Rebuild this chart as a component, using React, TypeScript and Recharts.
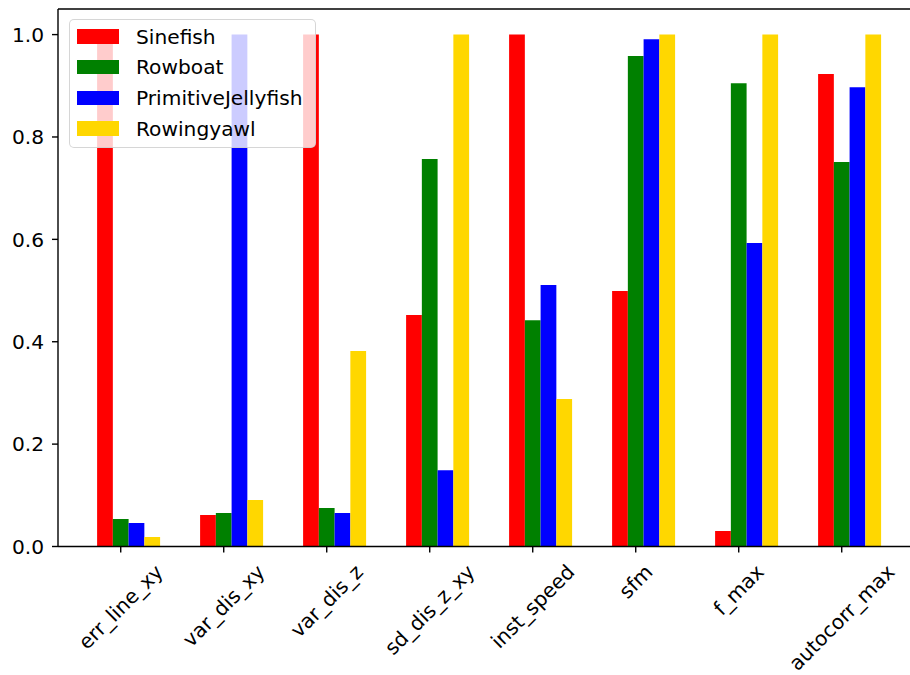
import React from "react";
import { BarChart, Bar, XAxis, YAxis, ReferenceLine } from "recharts";

// feature names along the x axis
const features = [
  "err_line_xy",
  "var_dis_xy",
  "var_dis_z",
  "sd_dis_z_xy",
  "inst_speed",
  "sfm",
  "f_max",
  "autocorr_max",
];

// normalised feature scores per swimmer
const sinefish = [1.0, 0.0615, 1.0, 0.452, 1.0, 0.499, 0.0303, 0.923];
const rowboat = [0.0537, 0.0654, 0.0752, 0.757, 0.442, 0.958, 0.905, 0.751];
const primitiveJellyfish = [0.0459, 1.0, 0.0654, 0.149, 0.511, 0.991, 0.593, 0.897];
const rowingyawl = [0.0186, 0.0908, 0.382, 1.0, 0.288, 1.0, 1.0, 1.0];

const seriesNames = ["Sinefish", "Rowboat", "PrimitiveJellyfish", "Rowingyawl"];
const seriesValues = [sinefish, rowboat, primitiveJellyfish, rowingyawl];
const yTicks = [0, 0.2, 0.4, 0.6, 0.8, 1.0];

const COLORS = ["#ff0000", "#008000", "#0000ff", "#ffd700"];
const FONT = '"DejaVu Sans", sans-serif';
const FS = 20.2;
const BAR = 15.75;
const LINE_W = 1.4;
const PLOT_TOP = 9;
const PLOT_BOTTOM = 546.5;
const CHART_W = 940;
const CHART_H = 675;
const PLOT_RIGHT = 920;
const X_AXIS_H = 100;

const rows = features.map((f, i) => {
  const row: Record<string, string | number> = { feature: f };
  seriesNames.forEach((name, s) => {
    row[name] = seriesValues[s][i];
  });
  return row;
});

let ctx: CanvasRenderingContext2D | null = null;
function textWidth(s: string) {
  if (!ctx) ctx = document.createElement("canvas").getContext("2d");
  if (!ctx) return s.length * FS * 0.6;
  ctx.font = `${FS}px "DejaVu Sans"`;
  return ctx.measureText(s).width;
}

// rotated label, centred on the tick like matplotlib's ha="center"
function FeatureTick(props: any) {
  const { x, payload } = props;
  const tx = x - BAR / 2;
  const w = textWidth(String(payload.value));
  const cy = 560 + (w + FS * 1.17) / (2 * Math.SQRT2);
  return (
    <g>
      <line x1={tx} x2={tx} y1={PLOT_BOTTOM} y2={PLOT_BOTTOM + 6} stroke="#000" strokeWidth={LINE_W} />
      <text
        x={0}
        y={0}
        transform={`translate(${tx},${cy}) rotate(-45)`}
        textAnchor="middle"
        dominantBaseline="central"
        fontSize={FS}
        fontFamily={FONT}
        fill="#000"
      >
        {payload.value}
      </text>
    </g>
  );
}

function LegendBox() {
  return (
    <div
      style={{
        position: "absolute",
        left: 68.5,
        top: 19,
        width: 247,
        height: 129,
        boxSizing: "border-box",
        background: "rgba(255,255,255,0.8)",
        border: `${LINE_W}px solid rgba(204,204,204,0.8)`,
        borderRadius: 5,
        fontFamily: FONT,
        fontSize: FS,
        color: "#000",
      }}
    >
      {seriesNames.map((name, i) => (
        <div
          key={name}
          style={{
            position: "absolute",
            left: 7.5,
            top: 16.5 + i * 30.7 - 12,
            height: 24,
            display: "flex",
            alignItems: "center",
            whiteSpace: "nowrap",
          }}
        >
          <span style={{ display: "inline-block", width: 42, height: 14.5, background: COLORS[i] }} />
          <span style={{ marginLeft: 17 }}>{name}</span>
        </div>
      ))}
    </div>
  );
}

export default function App() {
  return (
    <div
      style={{
        position: "fixed",
        left: 0,
        top: 0,
        width: 910,
        height: 675,
        overflow: "hidden",
        background: "#fff",
      }}
    >
      <BarChart
        width={CHART_W}
        height={CHART_H}
        data={rows}
        barGap={0}
        margin={{ top: PLOT_TOP, right: CHART_W - PLOT_RIGHT, left: 0, bottom: CHART_H - PLOT_BOTTOM - X_AXIS_H }}
      >
        <XAxis
          dataKey="feature"
          height={X_AXIS_H}
          padding={{ left: 19.1, right: 18.9 }}
          interval={0}
          tickLine={false}
          tick={<FeatureTick />}
          axisLine={{ stroke: "#000", strokeWidth: LINE_W }}
        />
        <YAxis
          width={58}
          domain={[0, 1.05]}
          ticks={yTicks}
          tickFormatter={(v: number) => v.toFixed(1)}
          tickSize={6}
          tickMargin={8}
          tick={{ fontSize: FS, fontFamily: FONT, fill: "#000" }}
          tickLine={{ stroke: "#000", strokeWidth: LINE_W }}
          axisLine={{ stroke: "#000", strokeWidth: LINE_W }}
          allowDataOverflow
        />
        <ReferenceLine y={1.05} stroke="#000" strokeWidth={LINE_W} ifOverflow="visible" />
        {seriesNames.map((name, i) => (
          <Bar key={name} dataKey={name} fill={COLORS[i]} barSize={BAR} isAnimationActive={false} />
        ))}
      </BarChart>
      <LegendBox />
    </div>
  );
}
